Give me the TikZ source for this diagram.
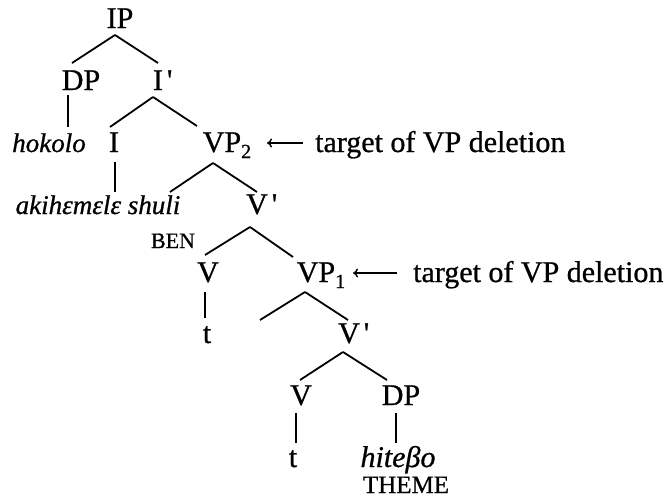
\documentclass[tikz,border=0pt]{standalone}
\usepackage{fontspec}
\setmainfont{Liberation Serif}[Ligatures=TeXOff, UprightFeatures={FakeBold=0.8}, ItalicFeatures={FakeBold=0.8}]
\usetikzlibrary{arrows.meta}
\newcommand{\prm}{\rlap{\hspace{4pt}'}}
\newcommand{\subs}[1]{\rlap{\raisebox{-6pt}{\fontsize{20}{20}\selectfont #1}}}
\tikzset{
 lab/.style={anchor=base, inner sep=0pt, font=\fontsize{30}{36}\selectfont},
 itl/.style={anchor=base, inner sep=0pt, font=\fontsize{27}{32}\selectfont\itshape},
 sml/.style={anchor=base, inner sep=0pt, font=\fontsize{22}{26}\selectfont},
 br/.style={line width=1.8pt},
 arr/.style={line width=1.4pt, -{To[length=5pt,width=9pt]}},
}
\begin{document}
\begin{tikzpicture}[x=1pt,y=-1pt]
\fill[white] (0,0) rectangle (666,498);
\useasboundingbox (0,0) rectangle (666,498);
\node[lab] (IP) at (120,28) {IP};
\node[lab] (DPa) at (81,90) {DP};
\node[lab] (Ib) at (158,90) {I\prm};
\node[itl] (hok) at (49,152) {hokolo};
\node[lab] (I) at (114,152) {I};
\node[lab] (VPb) at (222,152) {VP\subs{2}};
\node[lab, anchor=base west] (tg2) at (315,152) {target of VP deletion};
\node[itl] (aki) at (98,214) {akihɛmɛlɛ shuli};
\node[lab] (Vb1) at (257,214) {V\prm};
\node[sml] (ben) at (173,248) {BEN};
\node[lab] (V1) at (208,282) {V};
\node[lab] (VPa) at (316,282) {VP\subs{1}};
\node[lab, anchor=base west] (tg1) at (413,282) {target of VP deletion};
\node[lab] (t1) at (207,343) {t};
\coordinate (spec) at (260,320);
\node[lab] (Vb2) at (349,343) {V\prm};
\node[lab] (V2) at (301,405) {V};
\node[lab] (DPb) at (401,405) {DP};
\node[lab] (t2) at (293,467) {t};
\node[lab, font=\fontsize{30}{36}\selectfont\itshape] (hit) at (398,467) {hiteβo};
\node[sml, font=\fontsize{25}{30}\selectfont] (thm) at (406,493) {THEME};
\draw[br] ([shift={(-5,7)}]IP.base) -- ([shift={(-9,-27)}]DPa.base);
\draw[br] ([shift={(-5,7)}]IP.base) -- ([shift={(0,-27)}]Ib.base);
\draw[br] ([shift={(-13,5)}]DPa.base) -- ([shift={(19,-25)}]hok.base);
\draw[br] ([shift={(-5,7)}]Ib.base) -- ([shift={(-4,-25)}]I.base);
\draw[br] ([shift={(-5,7)}]Ib.base) -- ([shift={(-25,-26)}]VPb.base);
\draw[br] ([shift={(1,10)}]I.base) -- ([shift={(17,-22)}]aki.base);
\draw[br] ([shift={(-9,11)}]VPb.base) -- ([shift={(72,-22)}]aki.base);
\draw[br] ([shift={(-9,11)}]VPb.base) -- ([shift={(0,-22)}]Vb1.base);
\draw[br] ([shift={(-7,13)}]Vb1.base) -- ([shift={(-3,-27)}]V1.base);
\draw[br] ([shift={(-7,13)}]Vb1.base) -- ([shift={(-23,-25)}]VPa.base);
\draw[br] ([shift={(-3,10)}]V1.base) -- ([shift={(-2,-25)}]t1.base);
\draw[br] ([shift={(-11,10)}]VPa.base) -- (spec);
\draw[br] ([shift={(-11,10)}]VPa.base) -- ([shift={(-1,-23)}]Vb2.base);
\draw[br] ([shift={(-6,9)}]Vb2.base) -- ([shift={(-1,-25)}]V2.base);
\draw[br] ([shift={(-6,9)}]Vb2.base) -- ([shift={(-14,-25)}]DPb.base);
\draw[br] ([shift={(-5,8)}]V2.base) -- ([shift={(3,-24)}]t2.base);
\draw[br] ([shift={(-5,8)}]DPb.base) -- ([shift={(-2,-24)}]hit.base);
\draw[arr] ([shift={(-12,-9)}]tg2.base west) -- ([shift={(45,-9)}]VPb.base);
\draw[arr] ([shift={(-16,-9)}]tg1.base west) -- ([shift={(37,-9)}]VPa.base);
\end{tikzpicture}
\end{document}
